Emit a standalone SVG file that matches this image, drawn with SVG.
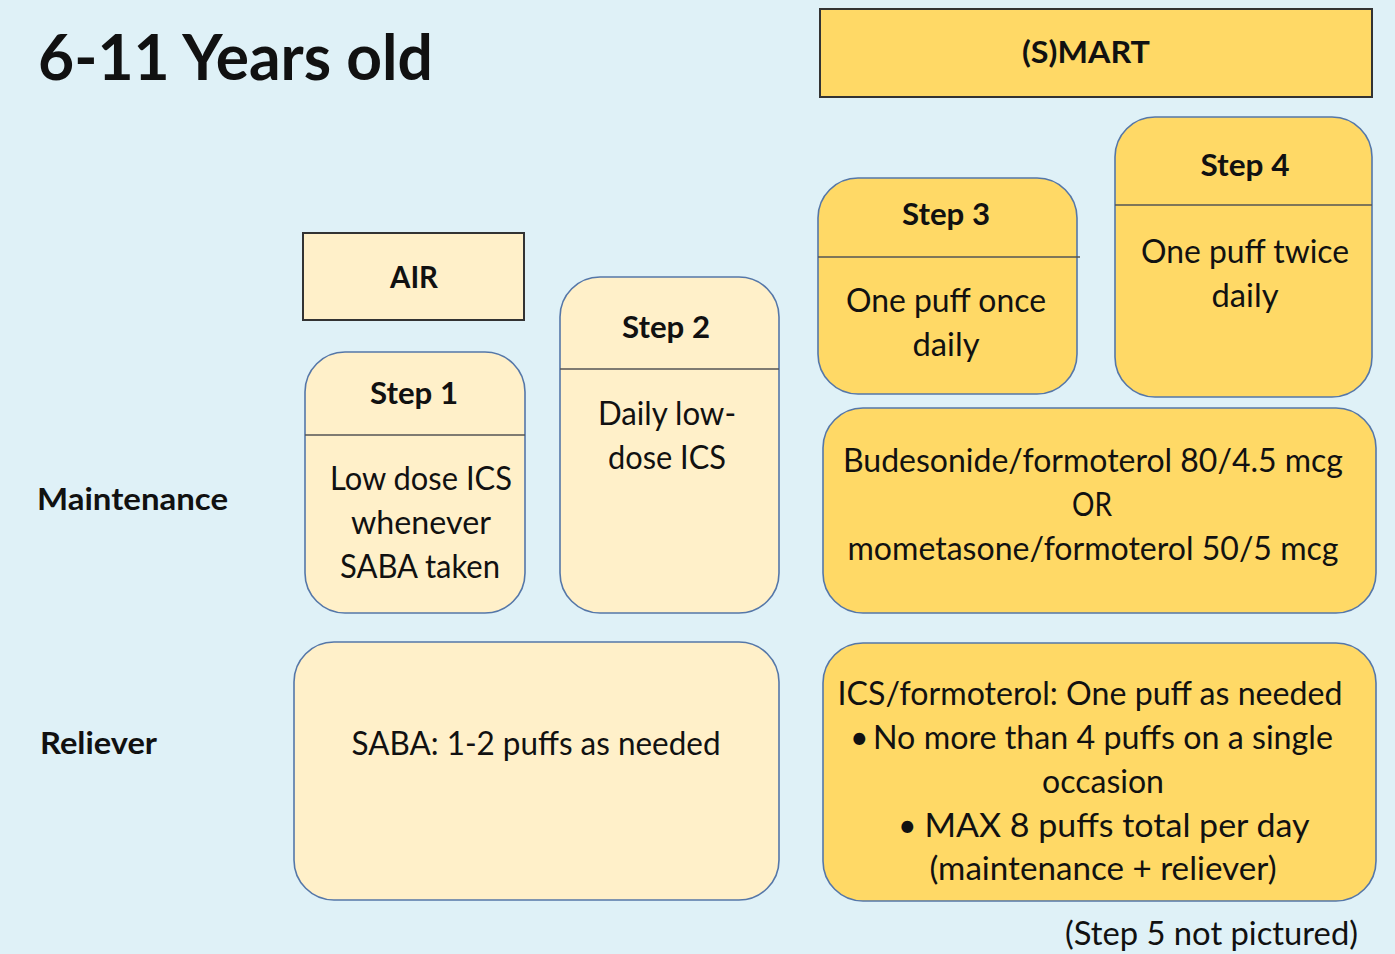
<svg xmlns="http://www.w3.org/2000/svg" width="1395" height="954" viewBox="0 0 1395 954">
<style>
text{font-family:Lato,"Open Sans","Liberation Sans",sans-serif;fill:#111;}
.b{font-weight:bold;}
.t{font-size:32px;text-anchor:middle;}
.h{font-size:31px;font-weight:bold;text-anchor:middle;}
.cream{fill:#FFF0C9;}
.gold{fill:#FFD966;}
.rb{stroke:#5577A8;stroke-width:1.6;}
.sq{stroke:#333;stroke-width:2;}
.div{stroke:#555;stroke-width:1.6;}
</style>
<rect width="1395" height="954" fill="#DFF1F7"/>
<text x="38" y="80" font-size="64" class="b" textLength="395" lengthAdjust="spacingAndGlyphs">6-11 Years old</text>
<text x="37" y="510" font-size="31" class="b" textLength="191" lengthAdjust="spacingAndGlyphs">Maintenance</text>
<text x="40" y="754" font-size="31" class="b" textLength="117" lengthAdjust="spacingAndGlyphs">Reliever</text>

<g id="smart">
<rect x="820" y="9" width="552" height="88" class="gold sq"/>
<text x="1086" y="63" class="h" textLength="128" lengthAdjust="spacingAndGlyphs">(S)MART</text>
</g>
<g id="air">
<rect x="303" y="233" width="221" height="87" class="cream sq"/>
<text x="414" y="288" class="h" textLength="48" lengthAdjust="spacingAndGlyphs">AIR</text>
</g>
<g id="step1">
<rect x="305" y="352" width="220" height="261" rx="40" class="cream rb"/>
<line x1="305" y1="435" x2="525" y2="435" class="div"/>
<text x="414" y="404" class="h" textLength="88" lengthAdjust="spacingAndGlyphs">Step 1</text>
<text x="421" y="490" class="t" textLength="182" lengthAdjust="spacingAndGlyphs">Low dose ICS</text>
<text x="421" y="534" class="t" textLength="140" lengthAdjust="spacingAndGlyphs">whenever</text>
<text x="420" y="578" class="t" textLength="160" lengthAdjust="spacingAndGlyphs">SABA taken</text>
</g>
<g id="step2">
<rect x="560" y="277" width="219" height="336" rx="40" class="cream rb"/>
<line x1="560" y1="369" x2="779" y2="369" class="div"/>
<text x="666" y="338" class="h" textLength="88" lengthAdjust="spacingAndGlyphs">Step 2</text>
<text x="667" y="425" class="t" textLength="138" lengthAdjust="spacingAndGlyphs">Daily low-</text>
<text x="667" y="469" class="t" textLength="118" lengthAdjust="spacingAndGlyphs">dose ICS</text>
</g>
<g id="step3">
<rect x="818" y="178" width="259" height="216" rx="40" class="gold rb"/>
<line x1="818" y1="257" x2="1080" y2="257" class="div"/>
<text x="946" y="225" class="h" textLength="88" lengthAdjust="spacingAndGlyphs">Step 3</text>
<text x="946" y="312" class="t" textLength="200" lengthAdjust="spacingAndGlyphs">One puff once</text>
<text x="946" y="356" class="t" textLength="67" lengthAdjust="spacingAndGlyphs">daily</text>
</g>
<g id="step4">
<rect x="1115" y="117" width="257" height="280" rx="40" class="gold rb"/>
<line x1="1115" y1="205" x2="1372" y2="205" class="div"/>
<text x="1245" y="176" class="h" textLength="89" lengthAdjust="spacingAndGlyphs">Step 4</text>
<text x="1245" y="263" class="t" textLength="208" lengthAdjust="spacingAndGlyphs">One puff twice</text>
<text x="1245" y="307" class="t" textLength="67" lengthAdjust="spacingAndGlyphs">daily</text>
</g>
<g id="smart-maintenance">
<rect x="823" y="408" width="553" height="205" rx="40" class="gold rb"/>
<text x="1093" y="472" class="t" textLength="500" lengthAdjust="spacingAndGlyphs">Budesonide/formoterol 80/4.5 mcg</text>
<text x="1092" y="516" class="t" textLength="40" lengthAdjust="spacingAndGlyphs">OR</text>
<text x="1093" y="560" class="t" textLength="491" lengthAdjust="spacingAndGlyphs">mometasone/formoterol 50/5 mcg</text>
</g>
<g id="saba-reliever">
<rect x="294" y="642" width="485" height="258" rx="40" class="cream rb"/>
<text x="536" y="755" class="t" textLength="369" lengthAdjust="spacingAndGlyphs">SABA: 1-2 puffs as needed</text>
</g>
<g id="smart-reliever">
<rect x="823" y="643" width="553" height="258" rx="40" class="gold rb"/>
<text x="1090" y="705" class="t" textLength="505" lengthAdjust="spacingAndGlyphs">ICS/formoterol: One puff as needed</text>
<text x="850" y="749" font-size="32">•</text>
<text x="1103" y="749" class="t" textLength="460" lengthAdjust="spacingAndGlyphs">No more than 4 puffs on a single</text>
<text x="1103" y="793" class="t" textLength="122" lengthAdjust="spacingAndGlyphs">occasion</text>
<text x="898" y="837" font-size="32">•</text>
<text x="1117" y="837" class="t" textLength="385" lengthAdjust="spacingAndGlyphs">MAX 8 puffs total per day</text>
<text x="1103" y="880" class="t" textLength="347" lengthAdjust="spacingAndGlyphs">(maintenance + reliever)</text>
</g>
<text x="1065" y="945" font-size="32" textLength="293" lengthAdjust="spacingAndGlyphs">(Step 5 not pictured)</text>
<g id="connectors"/>
</svg>
